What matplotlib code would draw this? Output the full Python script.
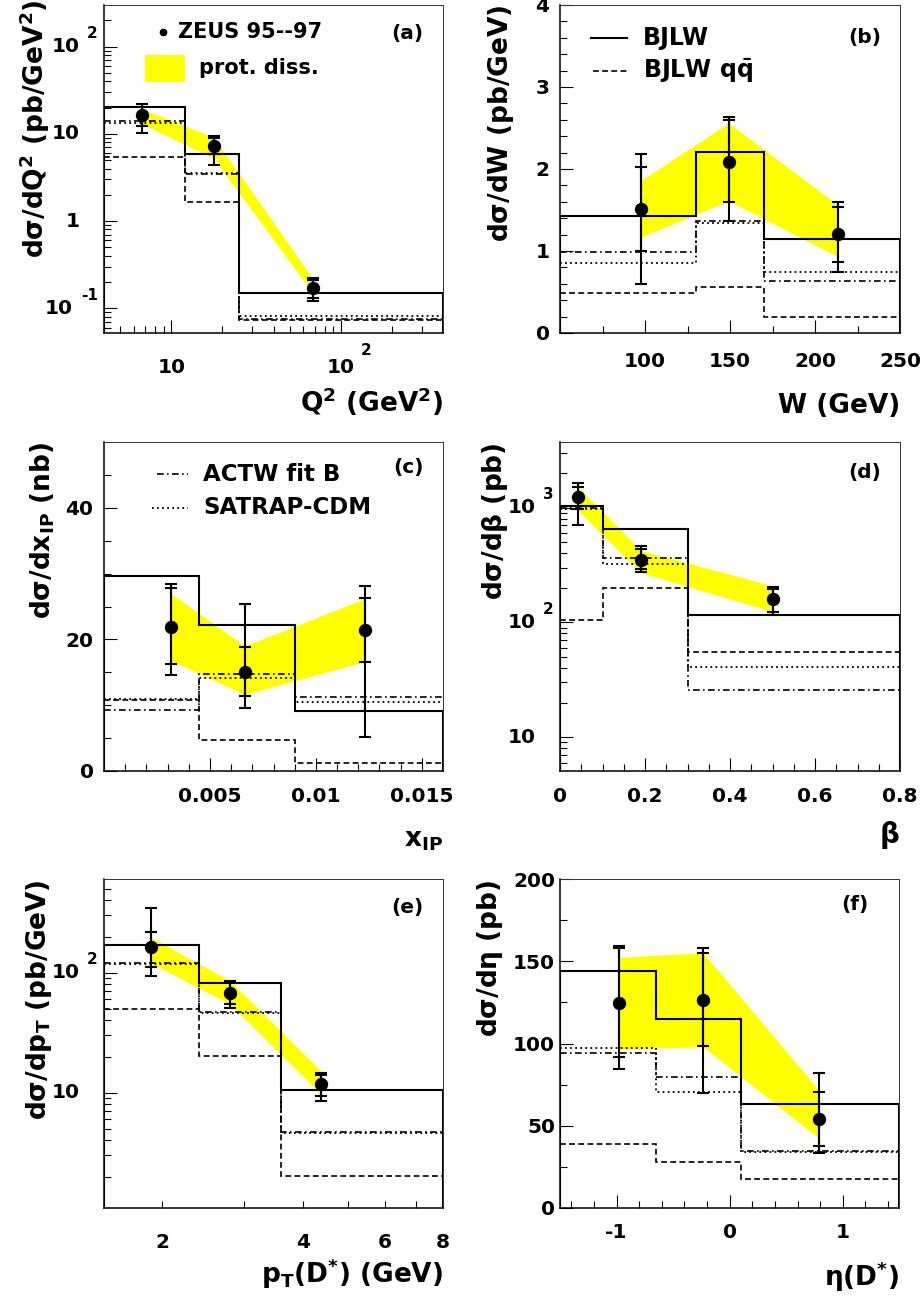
import numpy as np
import matplotlib
matplotlib.use('Agg')
import matplotlib.pyplot as plt
import matplotlib.transforms as mtransforms
from matplotlib.ticker import FixedLocator, NullFormatter, FuncFormatter

plt.rcParams['font.family'] = ['DejaVu Sans']
plt.rcParams['font.weight'] = 'bold'
plt.rcParams['mathtext.fontset'] = 'custom'
plt.rcParams['mathtext.rm'] = 'DejaVu Sans'
plt.rcParams['mathtext.bf'] = 'DejaVu Sans:bold'
plt.rcParams['mathtext.it'] = 'DejaVu Sans:italic'
plt.rcParams['mathtext.default'] = 'bf'
plt.rcParams['axes.unicode_minus'] = False

# ---------------- data ----------------
# (a) Q^2
q2_edges = [4, 12, 25, 400]
q2_x = [6.7, 17.8, 68]
q2_y = [16.3, 7.2, 0.172]
q2_tot_hi = [22.0, 9.4, 0.225]
q2_tot_lo = [10.2, 4.4, 0.12]
q2_stat_hi = [20.2, 9.0, 0.21]
q2_stat_lo = [12.3, 5.8, 0.13]
q2_band_hi = [19.3, 9.1, 0.22]
q2_band_lo = [13.0, 5.2, 0.15]
q2_bjlw = [20.5, 5.8, 0.151]
q2_bjlw_qq = [5.4, 1.65, 0.073]
q2_satrap = [13.2, 3.6, 0.082]
q2_actw = [14.2, 3.5, 0.075]

# (b) W
w_edges = [50, 130, 170, 250]
w_x = [97.5, 149.2, 213.5]
w_y = [1.51, 2.09, 1.21]
w_tot_hi = [2.18, 2.63, 1.60]
w_tot_lo = [0.60, 1.37, 0.75]
w_stat_hi = [2.02, 2.60, 1.54]
w_stat_lo = [1.00, 1.60, 0.87]
w_band_hi = [1.86, 2.56, 1.56]
w_band_lo = [1.17, 1.61, 0.93]
w_bjlw = [1.43, 2.21, 1.15]
w_bjlw_qq = [0.49, 0.56, 0.19]
w_satrap = [0.85, 1.34, 0.74]
w_actw = [0.99, 1.36, 0.64]

# (c) x_IP
xp_edges = [0.0, 0.0045, 0.009, 0.016]
xp_x = [0.00314, 0.00665, 0.0123]
xp_y = [21.9, 15.06, 21.4]
xp_tot_hi = [28.5, 25.4, 28.1]
xp_tot_lo = [14.6, 9.6, 5.1]
xp_stat_hi = [27.8, 18.8, 26.3]
xp_stat_lo = [16.2, 11.4, 16.6]
xp_band_hi = [27.0, 19.0, 26.2]
xp_band_lo = [16.8, 11.6, 16.6]
xp_bjlw = [29.6, 22.2, 9.1]
xp_bjlw_qq = [10.8, 4.6, 1.2]
xp_satrap = [10.9, 14.05, 10.4]
xp_actw = [9.3, 14.66, 11.26]

# (d) beta
b_edges = [0.0, 0.1, 0.3, 0.8]
b_x = [0.043, 0.191, 0.5]
b_y = [1238, 352, 160]
b_tot_hi = [1620, 461, 203]
b_tot_lo = [700, 273, 116]
b_stat_hi = [1513, 431, 195]
b_stat_lo = [966, 292, 122]
b_band_hi = [1500, 422, 208]
b_band_lo = [933, 270, 124]
b_bjlw = [1033, 647, 116]
b_bjlw_qq = [105, 198, 55]
b_satrap = [966, 321, 40.5]
b_actw = [985, 360, 25.7]

# (e) pT(D*)
pt_edges = [1.5, 2.4, 3.6, 8.0]
pt_x = [1.89, 2.79, 4.39]
pt_y = [165, 68, 11.8]
pt_tot_hi = [348, 86, 14.5]
pt_tot_lo = [93, 50.5, 8.5]
pt_stat_hi = [220, 83, 14.0]
pt_stat_lo = [112, 54.6, 9.45]
pt_band_hi = [197, 86, 15.0]
pt_band_lo = [120, 55, 9.6]
pt_bjlw = [170, 81.5, 10.5]
pt_bjlw_qq = [49.9, 20.2, 2.03]
pt_satrap = [118, 46, 4.6]
pt_actw = [121, 47.3, 4.67]

# (f) eta(D*)
eta_edges = [-1.5, -0.65, 0.1, 1.5]
eta_x = [-0.977, -0.235, 0.788]
eta_y = [124.5, 126.5, 53.8]
eta_tot_hi = [159.4, 158.3, 81.8]
eta_tot_lo = [84.3, 70.0, 33.5]
eta_stat_hi = [158.0, 155.0, 70.6]
eta_stat_lo = [92.0, 98.7, 37.6]
eta_band_hi = [152.5, 155.3, 71.7]
eta_band_lo = [96.6, 98.0, 42.3]
eta_bjlw = [144.2, 114.7, 63.2]
eta_bjlw_qq = [38.6, 28.0, 17.3]
eta_satrap = [97.1, 70.6, 34.1]
eta_actw = [94.0, 79.4, 34.7]

# ---------------- style ----------------
YEL = '#ffff00'
LS_SOLID = '-'
LS_DASH = (0, (3.5, 2.0))
LS_DOT = (0, (1.0, 1.8))
LS_DASHDOT = (0, (4.0, 2.0, 1.0, 2.0))
FS_TICK = 14.5
FS_EXP = 11
FS_TITLE = 19

fig = plt.figure(figsize=(9.24, 13.0), dpi=100)


def px(dx, dy):
    return mtransforms.ScaledTranslation(dx / 100.0, dy / 100.0, fig.dpi_scale_trans)


def make_ax(rect):
    ax = fig.add_axes(rect)
    ax.tick_params(which='both', direction='in', top=False, right=False,
                   labelsize=FS_TICK, width=0.8)
    ax.tick_params(which='major', length=9.4)
    ax.tick_params(which='minor', length=5.0)
    for s in ['left', 'bottom']:
        ax.spines[s].set_linewidth(1.1)
    for s in ['top', 'right']:
        ax.spines[s].set_linewidth(0.7)
        ax.spines[s].set_color('#333333')
    return ax


def draw_panel(ax, edges, x, y, tot_lo, tot_hi, st_lo, st_hi, band_lo, band_hi,
               bjlw, qq, satrap, actw, ybase):
    x = np.asarray(x); y = np.asarray(y)
    ax.fill_between(x, band_lo, band_hi, color=YEL, lw=0, zorder=1)
    ax.stairs(actw, edges, baseline=None, color='k', lw=1.2, ls=LS_DASHDOT, zorder=2)
    ax.stairs(satrap, edges, baseline=None, color='k', lw=1.3, ls=LS_DOT, zorder=2)
    ax.stairs(qq, edges, baseline=None, color='k', lw=1.2, ls=LS_DASH, zorder=2)
    ax.stairs(bjlw, edges, baseline=ybase, color='k', lw=1.5, ls=LS_SOLID, zorder=3)
    ax.errorbar(x, y, yerr=[y - np.asarray(tot_lo), np.asarray(tot_hi) - y], fmt='none',
                ecolor='k', elinewidth=1.5, capsize=4.2, capthick=1.5, zorder=4)
    ax.errorbar(x, y, yerr=[y - np.asarray(st_lo), np.asarray(st_hi) - y], fmt='none',
                ecolor='k', elinewidth=1.5, capsize=4.2, capthick=1.5, zorder=4)
    ax.plot(x, y, 'o', color='k', ms=8.6, zorder=5)


def root_log_ylabels(ax, ticks):
    ax.yaxis.set_major_formatter(NullFormatter())
    ax.yaxis.set_minor_formatter(NullFormatter())
    trans = ax.get_yaxis_transform()
    em = FS_EXP * 100 / 72.0
    for v in ticks:
        e = int(round(np.log10(v)))
        if e in (0, 1):
            ax.text(0, v, '%d' % v, transform=trans + px(-24, 0), ha='right',
                    va='center', fontsize=FS_TICK, fontweight='bold')
        else:
            es = '%d' % e
            w = sum(0.415 if c == '-' else 0.696 for c in es) * em
            ax.text(0, v, es, transform=trans + px(-6, 13), ha='right', va='center',
                    fontsize=FS_EXP, fontweight='bold')
            ax.text(0, v, '10', transform=trans + px(-6 - w - 8, 0), ha='right',
                    va='center', fontsize=FS_TICK, fontweight='bold')


def root_log_xlabels(ax, ticks, pad=25):
    ax.xaxis.set_major_formatter(NullFormatter())
    ax.xaxis.set_minor_formatter(NullFormatter())
    trans = ax.get_xaxis_transform()
    em = FS_TICK * 100 / 72.0
    for v in ticks:
        e = int(round(np.log10(v)))
        if e in (0, 1):
            ax.text(v, 0, '%d' % v, transform=trans + px(0, -pad), ha='center',
                    va='top', fontsize=FS_TICK, fontweight='bold')
        else:
            ax.text(v, 0, '10', transform=trans + px(0, -pad), ha='center',
                    va='top', fontsize=FS_TICK, fontweight='bold')
            ax.text(v, 0, '%d' % e, transform=trans + px(0.696 * em + 6, -pad + 15),
                    ha='left', va='top', fontsize=FS_EXP, fontweight='bold')


def log_minors(lo, hi):
    out = []
    for d in range(int(np.floor(np.log10(lo))), int(np.ceil(np.log10(hi))) + 1):
        for m in range(2, 10):
            v = m * 10.0 ** d
            if lo < v < hi:
                out.append(v)
    return out


def ylab(ax, s, x, y=1.0):
    ax.text(x, y, s, transform=ax.transAxes, rotation=90, ha='center', va='top',
            fontsize=FS_TITLE)


def xlab(ax, s, y, fs=FS_TITLE):
    ax.text(1.0, y, s, transform=ax.transAxes, ha='right', va='center', fontsize=fs)


def plabel(ax, s, x, y):
    ax.text(x, y, s, transform=ax.transAxes, ha='center', va='center', fontsize=14.5)


# ---------------- (a) ----------------
axA = make_ax([104 / 924, 1 - 333 / 1300, 339 / 924, 328 / 1300])
axA.set_xscale('log'); axA.set_yscale('log')
axA.set_xlim(4, 400); axA.set_ylim(0.052, 300)
draw_panel(axA, q2_edges, q2_x, q2_y, q2_tot_lo, q2_tot_hi, q2_stat_lo, q2_stat_hi,
           q2_band_lo, q2_band_hi, q2_bjlw, q2_bjlw_qq, q2_satrap, q2_actw, 0.052)
axA.xaxis.set_major_locator(FixedLocator([10, 100]))
axA.xaxis.set_minor_locator(FixedLocator(log_minors(4, 400)))
axA.yaxis.set_major_locator(FixedLocator([0.1, 1, 10, 100]))
axA.yaxis.set_minor_locator(FixedLocator(log_minors(0.052, 300)))
root_log_xlabels(axA, [10, 100])
root_log_ylabels(axA, [0.1, 1, 10, 100])
ylab(axA, r'$\mathbf{d}\mathrm{\sigma}\mathbf{/dQ^{2}\ (pb/GeV^{2})}$', -0.205, 1.015)
xlab(axA, r'$\mathbf{Q^{2}\ (GeV^{2})}$', -0.21)
plabel(axA, '(a)', 0.894, 0.912)
axA.plot([0.174], [0.919], 'o', color='k', ms=4.5, transform=axA.transAxes)
axA.text(0.218, 0.919, 'ZEUS 95--97', transform=axA.transAxes, ha='left',
         va='center', fontsize=15)
axA.add_patch(plt.Rectangle((0.121, 0.766), 0.118, 0.082, transform=axA.transAxes,
                            color=YEL, lw=0))
axA.text(0.28, 0.807, 'prot. diss.', transform=axA.transAxes, ha='left',
         va='center', fontsize=15)

# ---------------- (b) ----------------
axB = make_ax([560 / 924, 1 - 333 / 1300, 340 / 924, 328 / 1300])
axB.set_xlim(50, 250); axB.set_ylim(0, 4)
draw_panel(axB, w_edges, w_x, w_y, w_tot_lo, w_tot_hi, w_stat_lo, w_stat_hi,
           w_band_lo, w_band_hi, w_bjlw, w_bjlw_qq, w_satrap, w_actw, 0)
axB.xaxis.set_major_locator(FixedLocator([100, 150, 200, 250]))
axB.xaxis.set_minor_locator(FixedLocator([75, 125, 175, 225]))
axB.yaxis.set_major_locator(FixedLocator([0, 1, 2, 3, 4]))
axB.yaxis.set_minor_locator(FixedLocator(np.arange(0.2, 4.0, 0.2)))
axB.tick_params(axis='x', pad=13.7)
axB.tick_params(axis='y', pad=7.5)
ylab(axB, r'$\mathbf{d}\mathrm{\sigma}\mathbf{/dW\ (pb/GeV)}$', -0.174, 1.0)
xlab(axB, 'W (GeV)', -0.222)
plabel(axB, '(b)', 0.897, 0.902)
axB.plot([0.09, 0.196], [0.9, 0.9], color='k', lw=1.5, transform=axB.transAxes)
axB.text(0.243, 0.9, 'BJLW', transform=axB.transAxes, ha='left', va='center', fontsize=17)
axB.plot([0.096, 0.196], [0.8, 0.8], color='k', lw=1.2, ls=LS_DASH, transform=axB.transAxes)
axB.text(0.243, 0.8, r'$\mathbf{BJLW\ q\bar{q}}$', transform=axB.transAxes, ha='left',
         va='center', fontsize=17)

# ---------------- (c) ----------------
axC = make_ax([104 / 924, 1 - 770.7 / 1300, 339 / 924, 328.4 / 1300])
axC.set_xlim(0, 0.016); axC.set_ylim(0, 50)
draw_panel(axC, xp_edges, xp_x, xp_y, xp_tot_lo, xp_tot_hi, xp_stat_lo, xp_stat_hi,
           xp_band_lo, xp_band_hi, xp_bjlw, xp_bjlw_qq, xp_satrap, xp_actw, 0)
axC.xaxis.set_major_locator(FixedLocator([0.005, 0.01, 0.015]))
axC.xaxis.set_minor_locator(FixedLocator(np.arange(0.001, 0.016, 0.001)))
axC.xaxis.set_major_formatter(FuncFormatter(lambda v, p: '%g' % v))
axC.yaxis.set_major_locator(FixedLocator([0, 20, 40]))
axC.yaxis.set_minor_locator(FixedLocator([5, 10, 15, 25, 30, 35, 45]))
axC.tick_params(axis='x', pad=11.5)
axC.tick_params(axis='y', pad=7.5)
ylab(axC, r'$\mathbf{d}\mathrm{\sigma}\mathbf{/dx_{IP}\ (nb)}$', -0.18, 1.0)
xlab(axC, r'$\mathbf{x_{IP}}$', -0.211)
plabel(axC, '(c)', 0.897, 0.922)
axC.plot([0.155, 0.248], [0.903, 0.903], color='k', lw=1.2, ls=LS_DASHDOT,
         transform=axC.transAxes)
axC.text(0.293, 0.903, 'ACTW fit B', transform=axC.transAxes, ha='left', va='center',
         fontsize=16.5)
axC.plot([0.141, 0.248], [0.801, 0.801], color='k', lw=1.3, ls=LS_DOT,
         transform=axC.transAxes)
axC.text(0.293, 0.801, 'SATRAP-CDM', transform=axC.transAxes, ha='left', va='center',
         fontsize=16.5)

# ---------------- (d) ----------------
axD = make_ax([560 / 924, 1 - 770.7 / 1300, 340 / 924, 328.4 / 1300])
axD.set_yscale('log')
axD.set_xlim(0, 0.8); axD.set_ylim(5.1, 3700)
draw_panel(axD, b_edges, b_x, b_y, b_tot_lo, b_tot_hi, b_stat_lo, b_stat_hi,
           b_band_lo, b_band_hi, b_bjlw, b_bjlw_qq, b_satrap, b_actw, 5.1)
axD.xaxis.set_major_locator(FixedLocator([0, 0.2, 0.4, 0.6, 0.8]))
axD.xaxis.set_minor_locator(FixedLocator(np.arange(0.05, 0.8, 0.05)))
axD.xaxis.set_major_formatter(FuncFormatter(lambda v, p: '%g' % v))
axD.yaxis.set_major_locator(FixedLocator([10, 100, 1000]))
axD.yaxis.set_minor_locator(FixedLocator(log_minors(5.1, 3700)))
root_log_ylabels(axD, [10, 100, 1000])
axD.tick_params(axis='x', pad=11.5)
ylab(axD, r'$\mathbf{d}\mathrm{\sigma}\mathbf{/d}\mathrm{\beta}\mathbf{\ (pb)}$', -0.191, 1.0)
xlab(axD, r'$\mathrm{\beta}$', -0.196, fs=20)
plabel(axD, '(d)', 0.897, 0.907)

# ---------------- (e) ----------------
axE = make_ax([104 / 924, 1 - 1207.7 / 1300, 339 / 924, 328.4 / 1300])
axE.set_xscale('log'); axE.set_yscale('log')
axE.set_xlim(1.5, 8); axE.set_ylim(1.1, 600)
draw_panel(axE, pt_edges, pt_x, pt_y, pt_tot_lo, pt_tot_hi, pt_stat_lo, pt_stat_hi,
           pt_band_lo, pt_band_hi, pt_bjlw, pt_bjlw_qq, pt_satrap, pt_actw, 1.1)
axE.xaxis.set_major_locator(FixedLocator([2, 3, 4, 5, 6, 7, 8]))
axE.xaxis.set_minor_locator(FixedLocator([]))
axE.xaxis.set_major_formatter(FuncFormatter(lambda v, p: '%d' % v if int(round(v)) in (2, 4, 6, 8) else ''))
axE.tick_params(axis='x', which='major', length=5.0, pad=18.4)
axE.yaxis.set_major_locator(FixedLocator([10, 100]))
axE.yaxis.set_minor_locator(FixedLocator(log_minors(1.1, 600)))
root_log_ylabels(axE, [10, 100])
ylab(axE, r'$\mathbf{d}\mathrm{\sigma}\mathbf{/dp_{T}\ (pb/GeV)}$', -0.192, 1.0)
xlab(axE, r'$\mathbf{p_{T}(D^{*})\ (GeV)}$', -0.202)
plabel(axE, '(e)', 0.894, 0.913)

# ---------------- (f) ----------------
axF = make_ax([560 / 924, 1 - 1207.7 / 1300, 339.3 / 924, 328.4 / 1300])
axF.set_xlim(-1.5, 1.5); axF.set_ylim(0, 200)
draw_panel(axF, eta_edges, eta_x, eta_y, eta_tot_lo, eta_tot_hi, eta_stat_lo, eta_stat_hi,
           eta_band_lo, eta_band_hi, eta_bjlw, eta_bjlw_qq, eta_satrap, eta_actw, 0)
axF.xaxis.set_major_locator(FixedLocator([-1, 0, 1]))
axF.xaxis.set_minor_locator(FixedLocator([-1.4, -1.2, -0.8, -0.6, -0.4, -0.2, 0.2, 0.4,
                                          0.6, 0.8, 1.2, 1.4]))
axF.yaxis.set_major_locator(FixedLocator([0, 50, 100, 150, 200]))
axF.yaxis.set_minor_locator(FixedLocator([25, 75, 125, 175]))
axF.tick_params(axis='x', pad=11.2)
axF.tick_params(axis='y', pad=3.6)
ylab(axF, r'$\mathbf{d}\mathrm{\sigma}\mathbf{/d}\mathrm{\eta}\mathbf{\ (pb)}$', -0.206, 1.0)
xlab(axF, r'$\mathrm{\eta}\mathbf{(D^{*})}$', -0.211)
plabel(axF, '(f)', 0.87, 0.922)

fig.savefig('out.png', dpi=100)
